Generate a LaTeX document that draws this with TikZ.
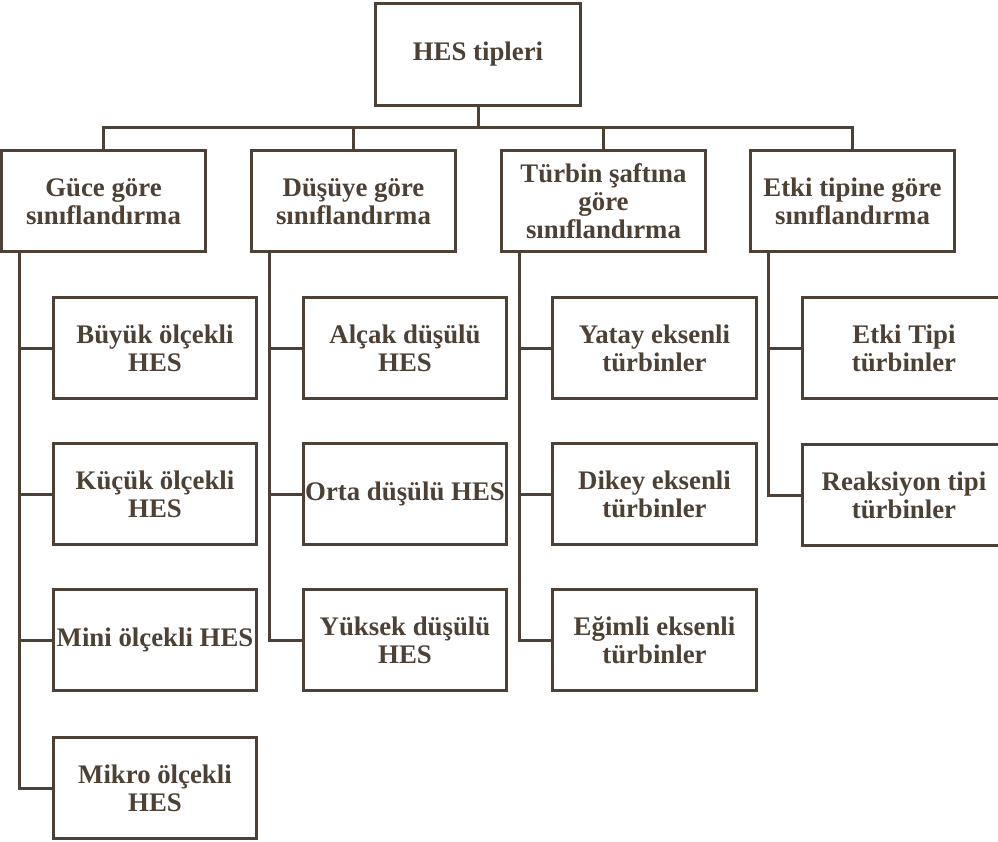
\documentclass[tikz,border=0pt]{standalone}
\usepackage{fontspec}
\setmainfont{Liberation Serif}
\definecolor{brn}{RGB}{77,64,52}
\begin{document}
\begin{tikzpicture}[x=1pt,y=-1pt,
  box/.style={draw=brn, line width=3pt, text=brn, fill=white,
    font=\fontsize{26.8}{28}\selectfont\bfseries, align=center, inner sep=0pt,
    minimum width=203.5pt, minimum height=101pt},
  topbox/.style={box, minimum width=205pt, minimum height=102pt},
  conn/.style={draw=brn, line width=3pt}]
\useasboundingbox (0,0) rectangle (998,842);
\clip (0,0) rectangle (998,842);
\coordinate (bus) at (478,128);
\node[topbox] (top) at (478,54.5) {HES tipleri};
\node[box] (g1) at (103.5,201.5) {Güce göre\\sınıflandırma};
\node[box] (g2) at (353.5,201.5) {Düşüye göre\\sınıflandırma};
\node[box] (g3) at (603.5,201.5) {Türbin şaftına\\göre\\sınıflandırma};
\node[box] (g4) at (852.5,201.5) {Etki tipine göre\\sınıflandırma};
% column 1
\node[box] (a1) at (155,348) {Büyük ölçekli\\HES};
\node[box] (a2) at (155,494) {Küçük ölçekli\\HES};
\node[box] (a3) at (155,640) {Mini ölçekli HES};
\node[box] (a4) at (155,788) {Mikro ölçekli\\HES};
% column 2
\node[box] (b1) at (405,348) {Alçak düşülü\\HES};
\node[box] (b2) at (405,494) {Orta düşülü HES};
\node[box] (b3) at (405,640) {Yüksek düşülü\\HES};
% column 3
\node[box] (c1) at (654.5,348) {Yatay eksenli\\türbinler};
\node[box] (c2) at (654.5,494) {Dikey eksenli\\türbinler};
\node[box] (c3) at (654.5,640) {Eğimli eksenli\\türbinler};
% column 4
\node[box] (d1) at (904,348) {Etki Tipi\\türbinler};
\node[box] (d2) at (904,495) {Reaksiyon tipi\\türbinler};
% bus
\draw[conn] (top.south) -- (bus);
\draw[conn] (g1.north) -- (g1.north |- bus) -- (g4.north |- bus) -- (g4.north);
\draw[conn] (g2.north) -- (g2.north |- bus);
\draw[conn] (g3.north) -- (g3.north |- bus);
% branches
\foreach \c in {a1,a2,a3,a4} \draw[conn] ([xshift=19.5pt]g1.south west) |- (\c.west);
\foreach \c in {b1,b2,b3} \draw[conn] ([xshift=19.5pt]g2.south west) |- (\c.west);
\foreach \c in {c1,c2,c3} \draw[conn] ([xshift=19.5pt]g3.south west) |- (\c.west);
\foreach \c in {d1,d2} \draw[conn] ([xshift=19.5pt]g4.south west) |- (\c.west);
\end{tikzpicture}
\end{document}
